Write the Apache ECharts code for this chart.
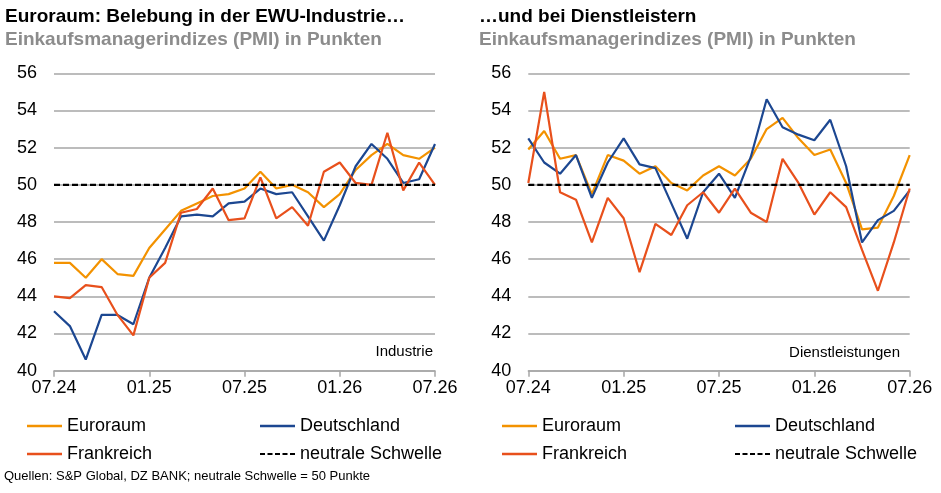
<!DOCTYPE html>
<html>
<head>
<meta charset="utf-8">
<script src="https://cdn.jsdelivr.net/npm/echarts@6/dist/echarts.min.js"></script>
<style>
  html, body { margin: 0; padding: 0; background: #fff; }
  #chart { width: 941px; height: 493px; }
</style>
</head>
<body>
<div id="chart"></div>
<script>
// Monate 07.24 bis 07.26
const months = [
  "07.24", "08.24", "09.24", "10.24", "11.24", "12.24",
  "01.25", "02.25", "03.25", "04.25", "05.25", "06.25",
  "07.25", "08.25", "09.25", "10.25", "11.25", "12.25",
  "01.26", "02.26", "03.26", "04.26", "05.26", "06.26", "07.26"
];

// Industrie
const indEuro = [45.8, 45.8, 45.0, 46.0, 45.2, 45.1, 46.6, 47.6, 48.6, 49.0, 49.4, 49.5, 49.8, 50.7, 49.8, 50.0, 49.6, 48.8, 49.5, 50.8, 51.6, 52.2, 51.6, 51.4, 52.0];
const indDe = [43.2, 42.4, 40.6, 43.0, 43.0, 42.5, 45.0, 46.6, 48.3, 48.4, 48.3, 49.0, 49.1, 49.8, 49.5, 49.6, 48.3, 47.0, 48.9, 51.0, 52.2, 51.4, 50.1, 50.3, 52.2];
const indFr = [44.0, 43.9, 44.6, 44.5, 43.0, 41.9, 45.0, 45.8, 48.5, 48.7, 49.8, 48.1, 48.2, 50.4, 48.2, 48.8, 47.8, 50.7, 51.2, 50.1, 50.0, 52.8, 49.7, 51.2, 50.0];

// Dienstleistungen
const dlEuro = [51.9, 52.9, 51.4, 51.6, 49.5, 51.6, 51.3, 50.6, 51.0, 50.1, 49.7, 50.5, 51.0, 50.5, 51.4, 53.0, 53.6, 52.5, 51.6, 51.9, 50.1, 47.6, 47.7, 49.4, 51.6];
const dlDe = [52.5, 51.2, 50.6, 51.6, 49.3, 51.2, 52.5, 51.1, 50.9, 49.0, 47.1, 49.6, 50.6, 49.3, 51.5, 54.6, 53.1, 52.7, 52.4, 53.5, 51.0, 46.9, 48.1, 48.6, 49.7];
const dlFr = [50.1, 55.0, 49.6, 49.2, 46.9, 49.3, 48.2, 45.3, 47.9, 47.3, 48.9, 49.6, 48.5, 49.8, 48.5, 48.0, 51.4, 50.1, 48.4, 49.6, 48.8, 46.5, 44.3, 46.9, 49.8];

// neutrale Schwelle
const neutral = [50, 50, 50, 50, 50, 50, 50, 50, 50, 50, 50, 50, 50, 50, 50, 50, 50, 50, 50, 50, 50, 50, 50, 50, 50];

const yTicks = { min: 40, max: 56, interval: 2 };

const cEuro = "#f39200";
const cDe = "#1c4791";
const cFr = "#e8501c";
const font = "Liberation Sans, Arial, sans-serif";

// Legendensymbole: durchgezogene bzw. gestrichelte Linie
const solidIcon = "path://M0,0h35v2.5h-35z";
const dashIcon = "path://M0,0h5v2h-5z M7.5,0h5v2h-5z M15,0h5v2h-5z M22.5,0h5v2h-5z M30,0h5v2h-5z";

const chart = echarts.init(document.getElementById("chart"));

function xAxis(idx) {
  return {
    type: "category",
    gridIndex: idx,
    data: months,
    boundaryGap: false,
    axisLine: { lineStyle: { color: "#a6a6a6", width: 1.5 } },
    axisTick: { interval: 5, length: 6, lineStyle: { color: "#a6a6a6", width: 1.5 } },
    axisLabel: { interval: 5, color: "#000", fontSize: 18, fontFamily: font, margin: 8 },
    splitLine: { show: false },
  };
}

function yAxis(idx) {
  return {
    type: "value",
    gridIndex: idx,
    min: yTicks.min,
    max: yTicks.max,
    interval: yTicks.interval,
    axisLine: { show: false },
    axisTick: { show: false },
    axisLabel: { color: "#000", fontSize: 18, fontFamily: font, margin: 17 },
    splitLine: { lineStyle: { color: "#a6a6a6", width: 1.5 } },
  };
}

function line(name, data, color, idx, dashed) {
  return {
    name: name,
    type: "line",
    xAxisIndex: idx,
    yAxisIndex: idx,
    data: data,
    symbol: "none",
    silent: true,
    itemStyle: { color: color },
    lineStyle: { color: color, width: 2.2, type: dashed ? [6, 3] : "solid" },
  };
}

function legend(name, color, left, top, dashed) {
  return {
    data: [{ name: name, icon: dashed ? dashIcon : solidIcon, itemStyle: { color: color } }],
    left: left,
    top: top,
    itemWidth: 35,
    itemHeight: dashed ? 2 : 2.5,
    selectedMode: false,
    textStyle: { fontSize: 18, fontFamily: font, color: "#000" },
  };
}

const titleStyle = { fontSize: 19, fontWeight: "bold", fontFamily: font, color: "#000" };
const subStyle = { fontSize: 19, fontWeight: "bold", fontFamily: font, color: "#8c8c8c" };
const smallStyle = { fontSize: 15, fontFamily: font, color: "#000", fontWeight: "normal" };

const option = {
  animation: false,
  title: [
    { text: "Euroraum: Belebung in der EWU-Industrie…", left: 0, top: 2, textStyle: titleStyle },
    { text: "Einkaufsmanagerindizes (PMI) in Punkten", left: 0, top: 25, textStyle: subStyle },
    { text: "…und bei Dienstleistern", left: 474, top: 2, textStyle: titleStyle },
    { text: "Einkaufsmanagerindizes (PMI) in Punkten", left: 474, top: 25, textStyle: subStyle },
    { text: "Industrie", right: 503, top: 339, textStyle: smallStyle },
    { text: "Dienstleistungen", right: 36, top: 340, textStyle: smallStyle },
    { text: "Quellen: S&P Global, DZ BANK; neutrale Schwelle = 50 Punkte", left: -1, top: 465, textStyle: { fontSize: 13, fontFamily: font, color: "#000", fontWeight: "normal" } },
  ],
  grid: [
    { left: 54, right: 506, top: 73.3, bottom: 122.3 },
    { left: 528.3, right: 31.3, top: 73.3, bottom: 122.3 },
  ],
  xAxis: [xAxis(0), xAxis(1)],
  yAxis: [yAxis(0), yAxis(1)],
  legend: [
    legend("Euroraum", cEuro, 22, 412),
    legend("Deutschland", cDe, 255, 412),
    legend("Frankreich", cFr, 22, 440),
    legend("neutrale Schwelle", "#000", 255, 440, true),
    legend("Euroraum", cEuro, 497, 412),
    legend("Deutschland", cDe, 730, 412),
    legend("Frankreich", cFr, 497, 440),
    legend("neutrale Schwelle", "#000", 730, 440, true),
  ],
  series: [
    line("Euroraum", indEuro, cEuro, 0),
    line("Deutschland", indDe, cDe, 0),
    line("Frankreich", indFr, cFr, 0),
    line("neutrale Schwelle", neutral, "#000", 0, true),
    line("Euroraum", dlEuro, cEuro, 1),
    line("Deutschland", dlDe, cDe, 1),
    line("Frankreich", dlFr, cFr, 1),
    line("neutrale Schwelle", neutral, "#000", 1, true),
  ],
};

chart.setOption(option);
</script>
</body>
</html>
